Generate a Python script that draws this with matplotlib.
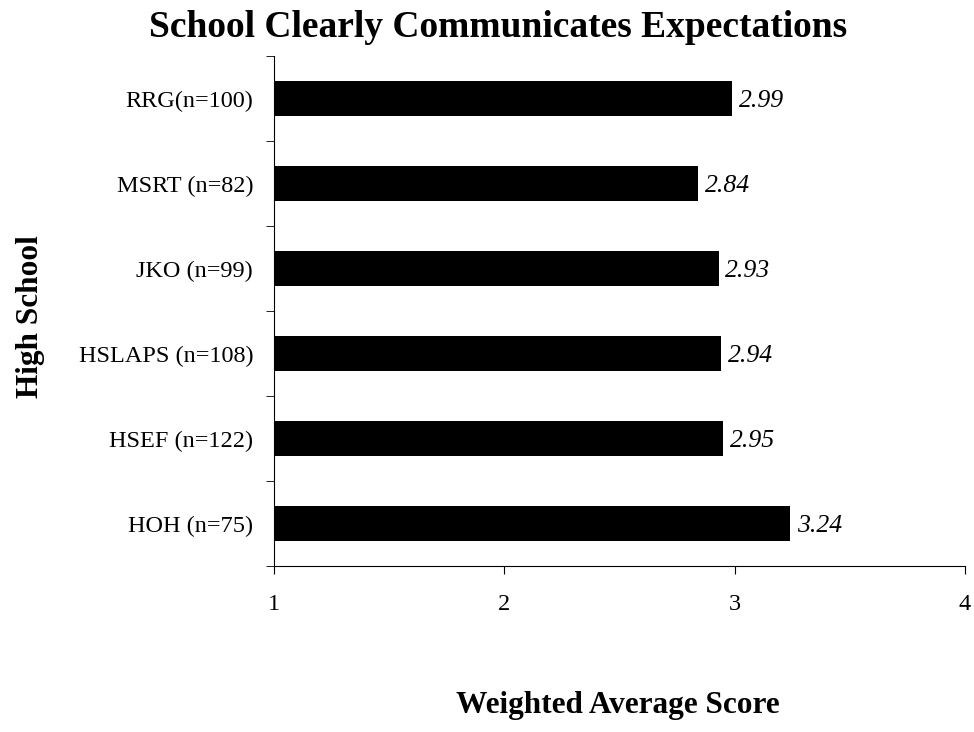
import matplotlib.pyplot as plt
import numpy as np

schools = ['HOH (n=75)', 'HSEF (n=122)', 'HSLAPS (n=108)', 'JKO (n=99)', 'MSRT (n=82)', 'RRG(n=100)']
scores = [3.24, 2.95, 2.94, 2.93, 2.84, 2.99]
x_ticks = [1, 2, 3, 4]

plt.rcParams['font.family'] = ['Liberation Serif', 'DejaVu Serif']

fig = plt.figure(figsize=(9.74, 7.32), dpi=100)
ax = fig.add_axes([0.2813, 0.2268, 0.7095, 0.6967])

y = np.arange(len(schools))
ax.barh(y, np.array(scores) - 1, left=1, height=0.41, color='black')

# value labels, italic, just right of each bar
for yi, s in zip(y, scores):
    ax.text(s + 0.03, yi, f'{s:.2f}', va='center_baseline', ha='left', fontsize=18.5, style='italic')

ax.set_xlim(1, 4)
ax.set_ylim(-0.5, len(schools) - 0.5)
ax.set_xticks(x_ticks)
ax.set_xticklabels([str(t) for t in x_ticks], fontsize=17.5)
ax.set_yticks(y)
ax.set_yticklabels(schools, fontsize=17.5)
ax.set_yticks(np.arange(-0.5, len(schools), 1), minor=True)
ax.tick_params(axis='y', which='major', length=0, pad=15)
ax.tick_params(axis='y', which='minor', length=6, direction='out')
ax.tick_params(axis='x', length=5.5, direction='out', pad=15)

for side in ['top', 'right']:
    ax.spines[side].set_visible(False)

fig.text(0.511, 0.949, 'School Clearly Communicates Expectations', ha='center', va='baseline',
         fontsize=27, fontweight='bold')
fig.text(0.634, 0.036, 'Weighted Average Score', ha='center', va='center', fontsize=22.5, fontweight='bold')
fig.text(0.031, 0.568, 'High School', ha='center', va='center', rotation=90, fontsize=22.5, fontweight='bold')

plt.savefig('out.png')
